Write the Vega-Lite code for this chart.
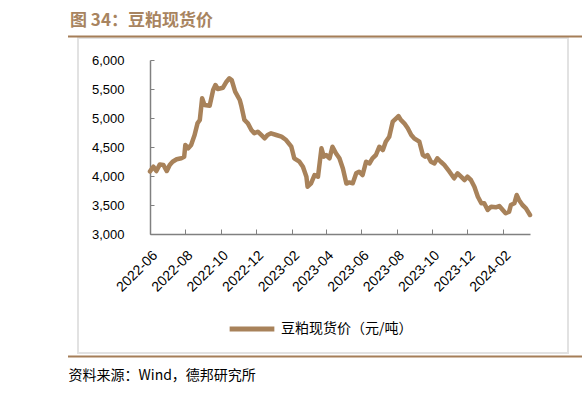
{
  "$schema": "https://vega.github.io/schema/vega-lite/v6.json",
  "width": 380,
  "height": 174,
  "autosize": {"type": "none"},
  "padding": {"left": 150, "top": 60, "right": 52, "bottom": 160},
  "background": "white",
  "config": {"view": {"stroke": null}, "font": "Liberation Sans"},
  "title": {
    "text": "图 34：豆粕现货价",
    "anchor": "start",
    "frame": "group",
    "orient": "top",
    "dx": -80,
    "offset": 6,
    "font": "Noto Sans CJK SC",
    "fontSize": 17,
    "fontWeight": "bold",
    "color": "#A8845F"
  },
  "layer": [
    {
      "data": {"values": [{}]},
      "mark": {"type": "rect", "fill": null, "stroke": "#e2e2e2", "strokeWidth": 2},
      "encoding": {
        "x": {"value": -72},
        "x2": {"value": 418},
        "y": {"value": -22},
        "y2": {"value": 293}
      }
    },
    {
      "data": {"values": [{}]},
      "mark": {"type": "rule", "stroke": "#A57E58", "strokeWidth": 2},
      "encoding": {
        "x": {"value": -82},
        "x2": {"value": 432},
        "y": {"value": -23.5}
      }
    },
    {
      "data": {"values": [{}]},
      "mark": {"type": "rule", "stroke": "#A57E58", "strokeWidth": 2},
      "encoding": {
        "x": {"value": -82},
        "x2": {"value": 432},
        "y": {"value": 296.5}
      }
    },
    {
      "data": {
        "values": [
          {"date": "2022-06-01", "price": 4080},
          {"date": "2022-06-07", "price": 4160},
          {"date": "2022-06-12", "price": 4086},
          {"date": "2022-06-18", "price": 4200},
          {"date": "2022-06-24", "price": 4190},
          {"date": "2022-06-30", "price": 4086},
          {"date": "2022-07-05", "price": 4190},
          {"date": "2022-07-10", "price": 4246},
          {"date": "2022-07-17", "price": 4288},
          {"date": "2022-07-25", "price": 4305},
          {"date": "2022-07-30", "price": 4330},
          {"date": "2022-08-01", "price": 4535},
          {"date": "2022-08-06", "price": 4478},
          {"date": "2022-08-11", "price": 4535},
          {"date": "2022-08-17", "price": 4707},
          {"date": "2022-08-22", "price": 4908},
          {"date": "2022-08-26", "price": 4966},
          {"date": "2022-08-30", "price": 5340},
          {"date": "2022-09-03", "price": 5224},
          {"date": "2022-09-12", "price": 5212},
          {"date": "2022-09-18", "price": 5483},
          {"date": "2022-09-22", "price": 5569},
          {"date": "2022-09-26", "price": 5500},
          {"date": "2022-10-05", "price": 5522},
          {"date": "2022-10-11", "price": 5626},
          {"date": "2022-10-16", "price": 5684},
          {"date": "2022-10-20", "price": 5655},
          {"date": "2022-10-26", "price": 5455},
          {"date": "2022-11-03", "price": 5310},
          {"date": "2022-11-06", "price": 5195},
          {"date": "2022-11-11", "price": 4966},
          {"date": "2022-11-17", "price": 4908},
          {"date": "2022-11-23", "price": 4793},
          {"date": "2022-11-28", "price": 4736},
          {"date": "2022-12-04", "price": 4764},
          {"date": "2022-12-10", "price": 4707},
          {"date": "2022-12-16", "price": 4650},
          {"date": "2022-12-21", "price": 4707},
          {"date": "2022-12-27", "price": 4736},
          {"date": "2023-01-05", "price": 4707},
          {"date": "2023-01-14", "price": 4678},
          {"date": "2023-01-22", "price": 4620},
          {"date": "2023-01-31", "price": 4505},
          {"date": "2023-02-05", "price": 4305},
          {"date": "2023-02-14", "price": 4247},
          {"date": "2023-02-20", "price": 4160},
          {"date": "2023-02-26", "price": 3988},
          {"date": "2023-02-28", "price": 3815},
          {"date": "2023-03-06", "price": 3874},
          {"date": "2023-03-12", "price": 4017},
          {"date": "2023-03-18", "price": 3988},
          {"date": "2023-03-24", "price": 4478},
          {"date": "2023-03-28", "price": 4333},
          {"date": "2023-04-01", "price": 4362},
          {"date": "2023-04-07", "price": 4305},
          {"date": "2023-04-12", "price": 4505},
          {"date": "2023-04-18", "price": 4391},
          {"date": "2023-04-24", "price": 4305},
          {"date": "2023-04-30", "price": 4130},
          {"date": "2023-05-06", "price": 3870},
          {"date": "2023-05-11", "price": 3890},
          {"date": "2023-05-17", "price": 3874},
          {"date": "2023-05-23", "price": 4046},
          {"date": "2023-05-28", "price": 4074},
          {"date": "2023-06-03", "price": 4017},
          {"date": "2023-06-09", "price": 4246},
          {"date": "2023-06-15", "price": 4218},
          {"date": "2023-06-20", "price": 4305},
          {"date": "2023-06-26", "price": 4362},
          {"date": "2023-07-02", "price": 4505},
          {"date": "2023-07-08", "price": 4448},
          {"date": "2023-07-13", "price": 4591},
          {"date": "2023-07-19", "price": 4678},
          {"date": "2023-07-25", "price": 4936},
          {"date": "2023-07-31", "price": 4995},
          {"date": "2023-08-04", "price": 5034},
          {"date": "2023-08-08", "price": 4966},
          {"date": "2023-08-14", "price": 4908},
          {"date": "2023-08-20", "price": 4822},
          {"date": "2023-08-26", "price": 4707},
          {"date": "2023-08-31", "price": 4650},
          {"date": "2023-09-09", "price": 4591},
          {"date": "2023-09-15", "price": 4362},
          {"date": "2023-09-19", "price": 4333},
          {"date": "2023-09-23", "price": 4362},
          {"date": "2023-09-29", "price": 4246},
          {"date": "2023-10-05", "price": 4218},
          {"date": "2023-10-10", "price": 4305},
          {"date": "2023-10-16", "price": 4246},
          {"date": "2023-10-22", "price": 4190},
          {"date": "2023-10-31", "price": 4074},
          {"date": "2023-11-08", "price": 3960},
          {"date": "2023-11-14", "price": 4046},
          {"date": "2023-11-20", "price": 3988},
          {"date": "2023-11-26", "price": 3931},
          {"date": "2023-12-01", "price": 3988},
          {"date": "2023-12-07", "price": 3931},
          {"date": "2023-12-13", "price": 3815},
          {"date": "2023-12-19", "price": 3643},
          {"date": "2023-12-25", "price": 3529},
          {"date": "2023-12-30", "price": 3529},
          {"date": "2024-01-05", "price": 3414},
          {"date": "2024-01-11", "price": 3471},
          {"date": "2024-01-19", "price": 3460},
          {"date": "2024-01-25", "price": 3483},
          {"date": "2024-01-31", "price": 3414},
          {"date": "2024-02-05", "price": 3357},
          {"date": "2024-02-11", "price": 3385},
          {"date": "2024-02-14", "price": 3500},
          {"date": "2024-02-20", "price": 3529},
          {"date": "2024-02-24", "price": 3672},
          {"date": "2024-02-28", "price": 3586},
          {"date": "2024-03-05", "price": 3500},
          {"date": "2024-03-11", "price": 3443},
          {"date": "2024-03-18", "price": 3328}
        ]
      },
      "mark": {"type": "line", "strokeWidth": 4.5, "strokeJoin": "round", "strokeCap": "round"},
      "encoding": {
        "x": {
          "field": "date",
          "type": "temporal",
          "scale": {
            "type": "utc",
            "domain": [
              {"year": 2022, "month": 6, "date": 1, "utc": true},
              {"year": 2024, "month": 3, "date": 18, "utc": true}
            ]
          },
          "axis": {
            "values": [
              {"year": 2022, "month": 6, "date": 1, "utc": true},
              {"year": 2022, "month": 8, "date": 1, "utc": true},
              {"year": 2022, "month": 10, "date": 1, "utc": true},
              {"year": 2022, "month": 12, "date": 1, "utc": true},
              {"year": 2023, "month": 2, "date": 1, "utc": true},
              {"year": 2023, "month": 4, "date": 1, "utc": true},
              {"year": 2023, "month": 6, "date": 1, "utc": true},
              {"year": 2023, "month": 8, "date": 1, "utc": true},
              {"year": 2023, "month": 10, "date": 1, "utc": true},
              {"year": 2023, "month": 12, "date": 1, "utc": true},
              {"year": 2024, "month": 2, "date": 1, "utc": true}
            ],
            "format": "%Y-%m",
            "labelAngle": -45,
            "labelFontSize": 14,
            "labelColor": "#000000",
            "labelPadding": 19,
            "grid": false,
            "tickSize": -5,
            "tickColor": "#808080",
            "domainColor": "#808080",
            "domainWidth": 1.5,
            "labelFlush": false,
            "labelOverlap": false,
            "title": "资料来源：Wind，德邦研究所",
            "titleFont": "Noto Sans CJK SC",
            "titleFontSize": 14,
            "titleFontWeight": "normal",
            "titleColor": "#000000",
            "titleAnchor": "start",
            "titleAlign": "left",
            "titleBaseline": "middle",
            "titleX": -82,
            "titleY": 141
          }
        },
        "y": {
          "field": "price",
          "type": "quantitative",
          "scale": {"domain": [3000, 6000], "nice": false, "zero": false},
          "axis": {
            "values": [3000, 3500, 4000, 4500, 5000, 5500, 6000],
            "format": ",d",
            "labelFontSize": 13,
            "labelColor": "#000000",
            "labelPadding": 30,
            "grid": false,
            "tickSize": -4,
            "tickColor": "#808080",
            "domainColor": "#808080",
            "domainWidth": 1.5,
            "title": null
          }
        },
        "color": {
          "datum": "豆粕现货价（元/吨）",
          "type": "nominal",
          "scale": {"range": ["#A8825A"]},
          "legend": {
            "orient": "none",
            "legendX": 77,
            "legendY": 244,
            "title": null,
            "symbolType": "stroke",
            "symbolSize": 2000,
            "symbolStrokeWidth": 5,
            "labelFont": "Noto Sans CJK SC",
            "labelFontSize": 14,
            "labelColor": "#000000",
            "labelOffset": 4
          }
        }
      }
    }
  ]
}
